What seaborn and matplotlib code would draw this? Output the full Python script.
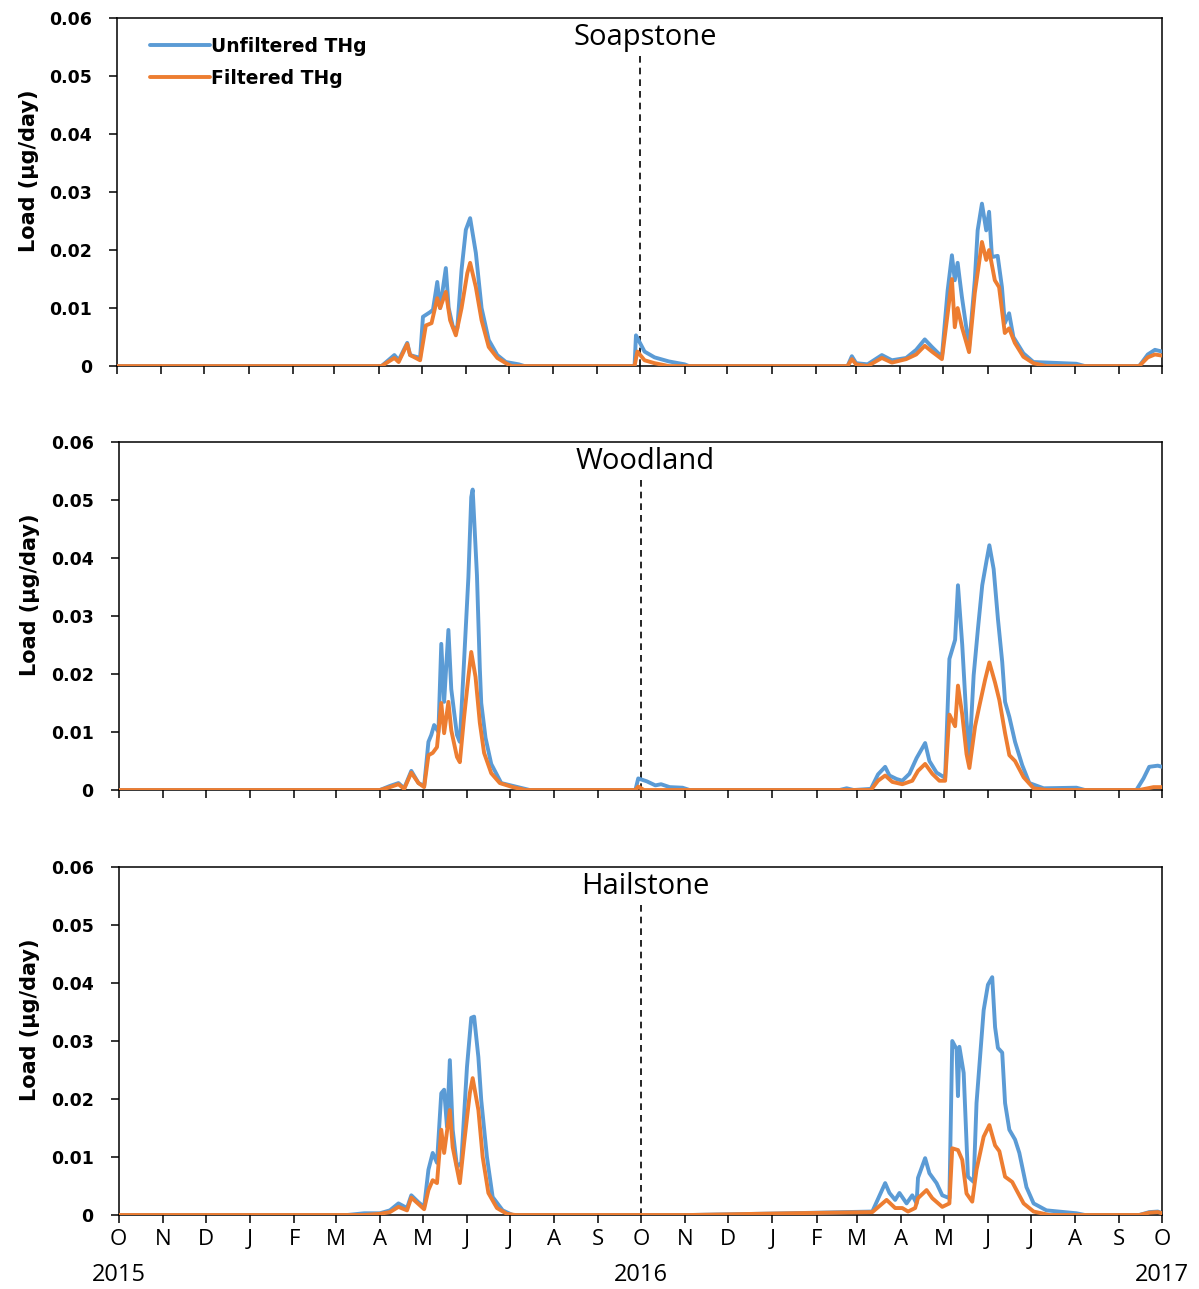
import numpy as np
import pandas as pd
import matplotlib
matplotlib.use("Agg")
import matplotlib.pyplot as plt
import matplotlib.transforms as mtransforms
import seaborn as sns

# ---------------- data (days since 2015-10-01, load in ug/day) ----------------
start_date = "2015-10-01"
end_date = "2017-10-01"
sites = ["Soapstone", "Woodland", "Hailstone"]
series_names = ["Unfiltered THg", "Filtered THg"]
month_letters = ["O", "N", "D", "J", "F", "M", "A", "M", "J", "J", "A", "S",
                 "O", "N", "D", "J", "F", "M", "A", "M", "J", "J", "A", "S", "O"]
year_labels = ["2015", "2016", "2017"]
yticks = [0, 0.01, 0.02, 0.03, 0.04, 0.05, 0.06]
ytick_labels = ["0", "0.01", "0.02", "0.03", "0.04", "0.05", "0.06"]

soap_unf_day = [0, 185, 194, 197, 203, 205, 212, 214, 219, 221, 224, 226, 230, 232, 235, 238, 241, 244,
                247, 251, 255, 260, 266, 272, 281, 285,
                362, 363, 369, 376, 386, 397, 400,
                511, 514, 517, 525, 535, 542, 552, 559, 565, 570, 577, 581, 584, 586, 588, 591, 596,
                600, 602, 605, 608, 610, 612, 616, 619, 621, 624, 627, 634, 641, 671, 677, 715, 721, 726, 731]
soap_unf_val = [0, 0, 0.0019, 0.001, 0.004, 0.0019, 0.0014, 0.0085, 0.0093, 0.0097, 0.0145, 0.010, 0.0169,
                0.010, 0.0067, 0.0065, 0.0166, 0.0235, 0.0255, 0.0195, 0.010, 0.0045, 0.0019, 0.0007,
                0.0003, 0,
                0, 0.0053, 0.0025, 0.0015, 0.0008, 0.0003, 0,
                0, 0.0017, 0.0005, 0.0003, 0.0019, 0.001, 0.0014, 0.0028, 0.0046, 0.0033, 0.0016, 0.013,
                0.0191, 0.0148, 0.0178, 0.0119, 0.0033, 0.0148, 0.0234, 0.028, 0.0234, 0.0266, 0.0188,
                0.019, 0.0136, 0.0074, 0.0091, 0.005, 0.0022, 0.0007, 0.0004, 0, 0, 0.002, 0.0028, 0.0025]

soap_fil_day = [0, 185, 194, 197, 203, 205, 212, 216, 220, 224, 226, 230, 233, 237, 241, 245, 247, 251,
                255, 260, 266, 272, 276,
                362, 364, 369, 376, 386,
                511, 514, 517, 525, 535, 542, 552, 559, 565, 570, 577, 581, 584, 586, 588, 591, 596,
                600, 603, 605, 608, 610, 614, 617, 621, 624, 628, 634, 641, 650, 715, 721, 726, 731]
soap_fil_val = [0, 0, 0.0014, 0.0007, 0.0038, 0.0019, 0.001, 0.007, 0.0074, 0.0117, 0.010, 0.0128, 0.0079,
                0.0053, 0.010, 0.016, 0.0178, 0.0136, 0.0079, 0.0033, 0.0014, 0.0005, 0,
                0, 0.0025, 0.001, 0.0005, 0,
                0, 0.0012, 0.0003, 0, 0.0014, 0.0006, 0.0012, 0.002, 0.0035, 0.0025, 0.0012, 0.009,
                0.015, 0.0067, 0.010, 0.0067, 0.0024, 0.0126, 0.0178, 0.0214, 0.0183, 0.020, 0.0148,
                0.0136, 0.0057, 0.0065, 0.004, 0.0016, 0.0005, 0, 0, 0.0015, 0.002, 0.0018]

wood_unf_day = [0, 183, 190, 196, 200, 205, 210, 214, 217, 219, 221, 224, 226, 228, 231, 233, 237, 239,
                242, 245, 247, 248, 251, 253, 254, 257, 261, 268, 283, 288,
                362, 364, 370, 376, 380, 386, 395, 400,
                505, 510, 515, 527, 532, 537, 540, 545, 549, 554, 559, 565, 568, 573, 579, 582, 586, 588,
                591, 594, 596, 599, 602, 605, 608, 610, 613, 616, 619, 621, 624, 628, 633, 638, 648,
                671, 677, 713, 718, 722, 728, 731]
wood_unf_val = [0, 0, 0.0007, 0.0012, 0.0003, 0.0033, 0.0012, 0.0007, 0.0083, 0.0095, 0.0112, 0.010,
                0.0252, 0.0152, 0.0276, 0.0174, 0.0095, 0.0083, 0.0224, 0.0367, 0.0505, 0.0518, 0.037,
                0.021, 0.015, 0.009, 0.0045, 0.0012, 0.0003, 0,
                0, 0.002, 0.0015, 0.0008, 0.001, 0.0005, 0.0004, 0,
                0, 0.0003, 0, 0.0002, 0.0027, 0.004, 0.0025, 0.0019, 0.0016, 0.0028, 0.0055, 0.0081,
                0.005, 0.003, 0.0021, 0.0226, 0.0259, 0.0353, 0.025, 0.0119, 0.006, 0.0198, 0.0278,
                0.0353, 0.0395, 0.0422, 0.0381, 0.0295, 0.0221, 0.0152, 0.0126, 0.0083, 0.0043, 0.0012,
                0.0003, 0.0004, 0, 0, 0.002, 0.004, 0.0042, 0.004]

wood_fil_day = [0, 183, 190, 196, 200, 205, 210, 214, 217, 220, 223, 226, 228, 231, 233, 237, 239, 242,
                245, 247, 250, 253, 256, 261, 267, 276, 285,
                362, 364, 368,
                527, 532, 537, 542, 549, 556, 560, 565, 570, 575, 579, 582, 586, 588, 591, 594, 596,
                600, 603, 607, 610, 614, 617, 621, 624, 628, 634, 641, 650, 715, 725, 731]
wood_fil_val = [0, 0, 0.0005, 0.001, 0.0002, 0.003, 0.0012, 0.0005, 0.006, 0.0064, 0.0074, 0.015, 0.0098,
                0.0152, 0.0103, 0.0057, 0.0048, 0.0126, 0.0195, 0.0238, 0.0195, 0.0116, 0.0064, 0.0029,
                0.0012, 0.0005, 0,
                0, 0.0006, 0,
                0, 0.0016, 0.0025, 0.0014, 0.001, 0.0016, 0.0033, 0.0045, 0.0028, 0.0016, 0.0016, 0.013,
                0.011, 0.018, 0.013, 0.0062, 0.0038, 0.011, 0.0145, 0.019, 0.022, 0.0185, 0.0155, 0.0098,
                0.006, 0.005, 0.0022, 0.0003, 0, 0, 0.0005, 0.0005]

hail_unf_day = [0, 160, 172, 183, 190, 196, 202, 205, 210, 214, 217, 220, 223, 226, 228, 230, 232, 234,
                237, 240, 244, 247, 249, 252, 254, 258, 262, 269, 276,
                400, 470, 528, 537, 540, 544, 547, 552, 556, 559, 560, 565, 568, 573, 577, 582, 584, 587,
                588, 589, 592, 595, 599, 601, 606, 609, 612, 614, 616, 619, 621, 624, 628, 631, 636, 641,
                650, 671, 677, 715, 722, 728, 731]
hail_unf_val = [0, 0, 0.0003, 0.0003, 0.0008, 0.002, 0.0012, 0.0034, 0.0022, 0.0014, 0.0078, 0.0107,
                0.009, 0.021, 0.0216, 0.0152, 0.0267, 0.0147, 0.0083, 0.009, 0.0255, 0.034, 0.0342,
                0.0272, 0.0198, 0.010, 0.0031, 0.0008, 0,
                0, 0.0003, 0.0006, 0.0055, 0.0038, 0.0026, 0.0038, 0.002, 0.0034, 0.002, 0.0064, 0.0098,
                0.0072, 0.0055, 0.0034, 0.0029, 0.030, 0.0286, 0.0205, 0.029, 0.0245, 0.0066, 0.0057,
                0.0193, 0.0353, 0.0397, 0.041, 0.0324, 0.0288, 0.028, 0.0193, 0.0147, 0.013, 0.0107,
                0.0048, 0.002, 0.0008, 0.0003, 0, 0, 0.0005, 0.0006, 0.0003]

hail_fil_day = [0, 172, 183, 190, 196, 202, 205, 210, 214, 217, 220, 223, 226, 228, 232, 234, 239, 242,
                246, 248, 252, 255, 259, 265, 272, 278,
                400, 470, 528, 538, 544, 549, 553, 558, 560, 566, 570, 577, 582, 584, 588, 591, 594, 598,
                601, 606, 610, 614, 617, 621, 626, 629, 634, 641, 652, 715, 722, 728, 731]
hail_fil_val = [0, 0, 0.0002, 0.0005, 0.0014, 0.0008, 0.003, 0.0019, 0.001, 0.0043, 0.006, 0.0055,
                0.0147, 0.0107, 0.0181, 0.0117, 0.0055, 0.0124, 0.021, 0.0236, 0.0181, 0.010, 0.0038,
                0.0012, 0.0002, 0,
                0, 0.0003, 0.0005, 0.0026, 0.0012, 0.0012, 0.0006, 0.0012, 0.0029, 0.0043, 0.0029,
                0.0014, 0.002, 0.0115, 0.0112, 0.0095, 0.0037, 0.0023, 0.0078, 0.0135, 0.0155, 0.012,
                0.011, 0.0066, 0.0057, 0.0043, 0.002, 0.0006, 0, 0, 0.0004, 0.0005, 0.0003]

site_data = {
    "Soapstone": (soap_unf_day, soap_unf_val, soap_fil_day, soap_fil_val),
    "Woodland": (wood_unf_day, wood_unf_val, wood_fil_day, wood_fil_val),
    "Hailstone": (hail_unf_day, hail_unf_val, hail_fil_day, hail_fil_val),
}

# ---------------- styling ----------------
sns.set_theme(style="ticks")
plt.rcParams["font.family"] = ["DejaVu Sans"]
plt.rcParams["text.color"] = "black"
plt.rcParams["axes.labelcolor"] = "black"
plt.rcParams["xtick.color"] = "black"
plt.rcParams["ytick.color"] = "black"
plt.rcParams["lines.solid_joinstyle"] = "round"
plt.rcParams["lines.solid_capstyle"] = "round"
colors = {"Unfiltered THg": "#5B9BD5", "Filtered THg": "#ED7D31"}

t0 = pd.Timestamp(start_date)
month_starts = pd.date_range(start_date, end_date, freq="MS")
month_days = [(d - t0).days for d in month_starts]
total_days = (pd.Timestamp(end_date) - t0).days
mid_day = (pd.Timestamp("2016-10-01") - t0).days

fig = plt.figure(figsize=(11.99, 12.89), dpi=100)
ax_boxes = [
    (0.0976, 0.716, 0.8716, 0.270),
    (0.0990, 0.3871, 0.8702, 0.270),
    (0.0990, 0.0574, 0.8702, 0.270),
]

for i, site in enumerate(sites):
    ax = fig.add_axes(ax_boxes[i])
    ud, uv, fd, fv = site_data[site]
    df = pd.concat([
        pd.DataFrame({"day": ud, "load": uv, "series": series_names[0]}),
        pd.DataFrame({"day": fd, "load": fv, "series": series_names[1]}),
    ], ignore_index=True)

    ax.axvline(mid_day, ymin=0, ymax=0.89, color="black", linestyle=(0, (4, 3)),
               linewidth=1.2, zorder=1)
    sns.lineplot(data=df, x="day", y="load", hue="series", hue_order=series_names,
                 palette=colors, linewidth=2.8, estimator=None, sort=True,
                 legend=(i == 0), ax=ax, zorder=3)

    ax.set_xlim(0, total_days)
    ax.set_ylim(0, 0.06)
    ax.set_yticks(yticks)
    ax.set_yticklabels(ytick_labels, fontsize=12.5, fontweight="bold")
    ax.set_xticks(month_days)
    if i == 2:
        ax.set_xticklabels(month_letters, fontsize=16, family=["Open Sans", "DejaVu Sans"])
        blend = mtransforms.blended_transform_factory(ax.transData, ax.transAxes)
        for yd, lab in zip([0, mid_day, total_days], year_labels):
            ax.text(yd, -0.172, lab, transform=blend, ha="center", va="center",
                    fontsize=17, family=["Open Sans", "DejaVu Sans"])
    else:
        ax.set_xticklabels([])
    ax.set_xlabel("")
    ax.set_ylabel("Load (µg/day)", fontsize=15, fontweight="bold")
    ax.yaxis.set_label_coords(-0.075, 0.56)
    ax.tick_params(axis="both", direction="out", length=6, width=1.1, color="black", pad=4)
    ax.tick_params(axis="y", pad=12)
    for s in ax.spines.values():
        s.set_visible(True)
        s.set_color("black")
        s.set_linewidth(1.1)
    ax.text(0.505, 0.943, site, transform=ax.transAxes, ha="center", va="center",
            fontsize=21, family=["Open Sans", "DejaVu Sans"], zorder=4)

    if i == 0:
        leg = ax.legend(loc="upper left", bbox_to_anchor=(0.015, 0.995), frameon=False,
                        handlelength=3.2, handletextpad=0.1, labelspacing=0.7,
                        prop={"weight": "bold", "size": 13.5})
        for line in leg.get_lines():
            line.set_linewidth(2.8)

fig.savefig("out.png", dpi=100)
